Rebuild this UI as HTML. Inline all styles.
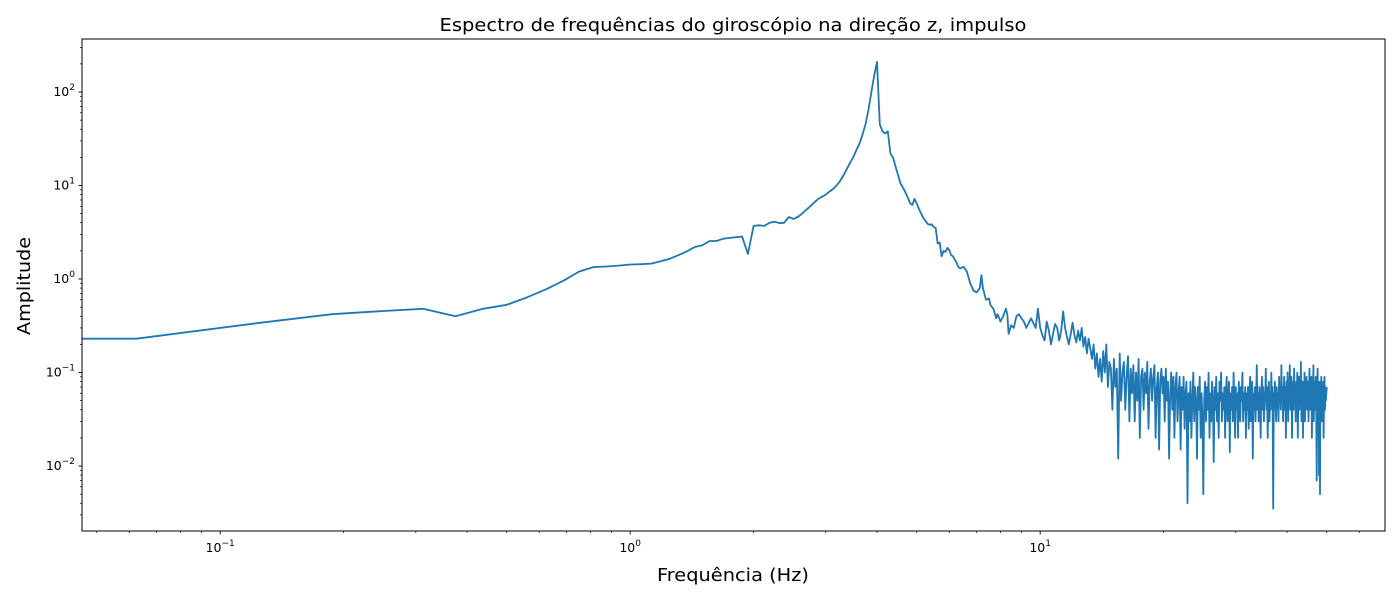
<!DOCTYPE html>
<html><head><meta charset="utf-8"><style>
body{margin:0;background:#fff;}
svg{font-family:"DejaVu Sans","Liberation Sans",sans-serif;}
</style></head><body>
<svg id="chart" width="1400" height="600" xmlns="http://www.w3.org/2000/svg">
<rect width="1400" height="600" fill="#fff"/>
<text x="733" y="31" text-anchor="middle" font-size="18" textLength="587" lengthAdjust="spacingAndGlyphs">Espectro de frequências do giroscópio na direção z, impulso</text>
<text x="733" y="581" text-anchor="middle" font-size="18" textLength="152" lengthAdjust="spacingAndGlyphs">Frequência (Hz)</text>
<text transform="translate(30,286) rotate(-90)" text-anchor="middle" font-size="18" textLength="98" lengthAdjust="spacingAndGlyphs">Amplitude</text>
<g id="ticks"></g>
<g id="plot"></g>
<rect x="82" y="39" width="1303" height="492" fill="none" stroke="#000" stroke-width="1"/>
</svg>
<script>
const freqLow = [0.04,0.0625,0.125,0.1875,0.25,0.3125,0.375,0.4375,0.5,0.5625,0.625,0.6875,0.75,0.8125,0.875,0.9375,1.0,1.0625,1.125,1.1875,1.25,1.3125,1.375,1.4375,1.5,1.5625,1.625,1.6875,1.75,1.8125,1.875,1.9375,2.0,2.0625,2.125,2.1875,2.25,2.3125,2.375,2.4375,2.5,2.5625,2.625,2.6875,2.75,2.8125,2.875,2.9375,3.0,3.0625,3.125,3.1875,3.25,3.3125,3.375,3.4375,3.5,3.5625,3.625,3.6875,3.75,3.8125,3.875,3.9375,4.0,4.0625,4.125,4.1875,4.25,4.3125,4.375,4.4375,4.5,4.5625,4.625,4.6875,4.75,4.8125,4.875,4.9375,5.0,5.0625,5.125,5.1875,5.25,5.3125,5.375,5.4375,5.5,5.5625,5.625,5.6875,5.75,5.8125,5.875,5.9375,6.0,6.0625,6.125,6.25,6.3125,6.375,6.5,6.625,6.75,6.875,7.0,7.125,7.1875,7.25,7.375,7.5,7.5625,7.6875,7.8125,7.875,8.0,8.125,8.25,8.3125,8.375,8.5,8.625,8.75,8.875,9.0,9.125,9.25,9.5,9.75,9.875];
const ampLow = [0.23,0.23,0.34,0.42,0.455,0.48,0.40,0.48,0.53,0.64,0.78,0.96,1.2,1.34,1.36,1.39,1.43,1.44,1.46,1.55,1.65,1.8,1.98,2.2,2.3,2.55,2.55,2.7,2.75,2.8,2.85,1.85,3.7,3.75,3.7,4.0,4.1,3.95,4.0,4.6,4.4,4.6,5.0,5.5,6.0,6.6,7.2,7.6,8.0,8.6,9.2,10.0,11.2,12.8,15,17.5,20,24,28,35,45,65,100,150,210,45,38,36,38,22,20,16,13,10.5,9.5,8.5,7.5,6.5,6.2,7.2,6.4,5.6,5.0,4.5,4.2,3.9,3.8,3.85,3.6,3.5,2.4,2.45,1.75,2.0,1.95,2.15,2.05,1.8,1.75,1.5,1.35,1.3,1.35,1.2,0.9,0.75,0.72,0.8,1.1,0.8,0.6,0.62,0.53,0.48,0.38,0.42,0.35,0.4,0.48,0.42,0.26,0.32,0.3,0.4,0.42,0.38,0.35,0.3,0.38,0.3,0.48];
const highStart = 10.0;
const highStep = 0.125;
const ampHigh = [
0.30,0.25,0.22,0.35,0.28,0.20,0.26,0.33,
0.30,0.22,0.28,0.45,0.30,0.24,0.20,0.26,
0.34,0.25,0.21,0.28,0.22,0.30,0.19,0.24,
0.16,0.23,0.18,0.14,0.20,0.11,0.16,0.09,
0.14,0.08,0.17,0.10,0.20,0.07,0.13,0.11,
0.04,0.14,0.07,0.11,0.012,0.16,0.05,0.10,
0.13,0.04,0.09,0.15,0.03,0.11,0.06,0.12,
0.03,0.10,0.05,0.14,0.02,0.09,0.11,0.04,
0.10,0.06,0.13,0.025,0.08,0.11,0.05,0.09,
0.12,0.02,0.07,0.10,0.015,0.08,0.11,0.06,
0.09,0.03,0.11,0.05,0.08,0.012,0.06,0.10,
0.04,0.09,0.02,0.07,0.10,0.03,0.06,0.09,
0.015,0.07,0.04,0.09,0.025,0.06,0.08,0.004,
0.06,0.03,0.08,0.02,0.05,0.10,0.03,0.07,
0.05,0.012,0.07,0.04,0.09,0.02,0.06,0.03,
0.005,0.05,0.08,0.03,0.07,0.04,0.10,0.02,
0.06,0.03,0.08,0.05,0.011,0.07,0.04,0.09,
0.03,0.06,0.02,0.08,0.05,0.10,0.03,0.06,
0.04,0.07,0.02,0.06,0.09,0.03,0.05,0.08,
0.014,0.06,0.04,0.07,0.03,0.10,0.05,0.02,
0.07,0.04,0.06,0.02,0.08,0.05,0.03,0.07,
0.05,0.10,0.03,0.06,0.04,0.07,0.02,0.06,
0.04,0.07,0.025,0.06,0.09,0.03,0.05,0.08,
0.012,0.06,0.04,0.07,0.03,0.05,0.12,0.04,
0.06,0.03,0.07,0.05,0.02,0.06,0.09,0.04,
0.07,0.03,0.06,0.05,0.11,0.04,0.07,0.02,
0.05,0.08,0.03,0.06,0.04,0.10,0.05,0.07,
0.0035,0.06,0.04,0.08,0.05,0.03,0.07,0.05,
0.06,0.03,0.09,0.05,0.07,0.04,0.12,0.05,
0.07,0.03,0.06,0.09,0.04,0.07,0.02,0.08,
0.05,0.10,0.03,0.07,0.05,0.12,0.04,0.06,
0.09,0.02,0.06,0.08,0.04,0.11,0.05,0.07,
0.03,0.08,0.05,0.10,0.02,0.06,0.09,0.04,
0.07,0.05,0.13,0.03,0.06,0.08,0.02,0.07,
0.05,0.10,0.03,0.07,0.05,0.09,0.04,0.06,
0.08,0.03,0.06,0.11,0.04,0.07,0.05,0.09,
0.02,0.07,0.05,0.12,0.03,0.08,0.06,0.04,
0.09,0.05,0.007,0.07,0.11,0.04,0.06,0.008,
0.08,0.005,0.07,0.05,0.09,0.03,0.06,0.04,
0.08,0.02,0.06,0.09,0.04,0.07,0.05,0.06,0.07];
const xTickExps = [-1,0,1];
const yTickExps = [-2,-1,0,1,2];

const X0=82,X1=1385,Y0=39,Y1=531;
const xLogMin=-1.337,xLogMax=1.841,yLogMin=-2.695,yLogMax=2.567;
function xs(v){return X0+(Math.log10(v)-xLogMin)/(xLogMax-xLogMin)*(X1-X0);}
function ys(v){return Y1-(Math.log10(v)-yLogMin)/(yLogMax-yLogMin)*(Y1-Y0);}
const NS="http://www.w3.org/2000/svg";
const ticks=document.getElementById('ticks'), plot=document.getElementById('plot');
function mk(tag,attrs,parent){const e=document.createElementNS(NS,tag);for(const k in attrs)e.setAttribute(k,attrs[k]);parent.appendChild(e);return e;}

for(let d=-2;d<=2;d++){
  for(let m=1;m<10;m++){
    const v=m*Math.pow(10,d), lv=Math.log10(v);
    if(lv<xLogMin||lv>xLogMax)continue;
    const x=xs(v);
    const t=mk('line',{x1:x,x2:x,y1:Y1,y2:Y1+(m===1?3.5:2),stroke:'#000','stroke-width':m===1?0.9:0.7},ticks);
    
    
  }
}
xTickExps.forEach(e=>{
  const x=xs(Math.pow(10,e));
  const t=mk('text',{x:x,y:Y1+21,'text-anchor':'middle','font-size':'12.5'},ticks);
  
  
  t.appendChild(document.createTextNode('10'));
  const s=mk('tspan',{dy:'-6','font-size':'9'},t);s.textContent=(e<0?'\u2212':'')+Math.abs(e);
});
for(let d=-3;d<=2;d++){
  for(let m=1;m<10;m++){
    const v=m*Math.pow(10,d), lv=Math.log10(v);
    if(lv<yLogMin||lv>yLogMax)continue;
    const y=ys(v);
    const t=mk('line',{x1:X0,x2:X0-(m===1?3.5:2),y1:y,y2:y,stroke:'#000','stroke-width':m===1?0.9:0.7},ticks);
    
    
  }
}
yTickExps.forEach(e=>{
  const y=ys(Math.pow(10,e));
  const t=mk('text',{x:X0-7,y:y+4,'text-anchor':'end','font-size':'12.5'},ticks);
  
  
  t.appendChild(document.createTextNode('10'));
  const s=mk('tspan',{dy:'-6','font-size':'9'},t);s.textContent=(e<0?'\u2212':'')+Math.abs(e);
});
const pts=[];
freqLow.forEach((f,i)=>pts.push([xs(f),ys(ampLow[i])]));
ampHigh.forEach((a,i)=>pts.push([xs(highStart+i*highStep),ys(a)]));
const p=mk('polyline',{points:pts.map(q=>Math.max(X0,q[0]).toFixed(1)+','+q[1].toFixed(1)).join(' '),fill:'none',stroke:'#1f77b4','stroke-width':1.8,'stroke-linejoin':'round'},plot);


</script>
</body></html>
